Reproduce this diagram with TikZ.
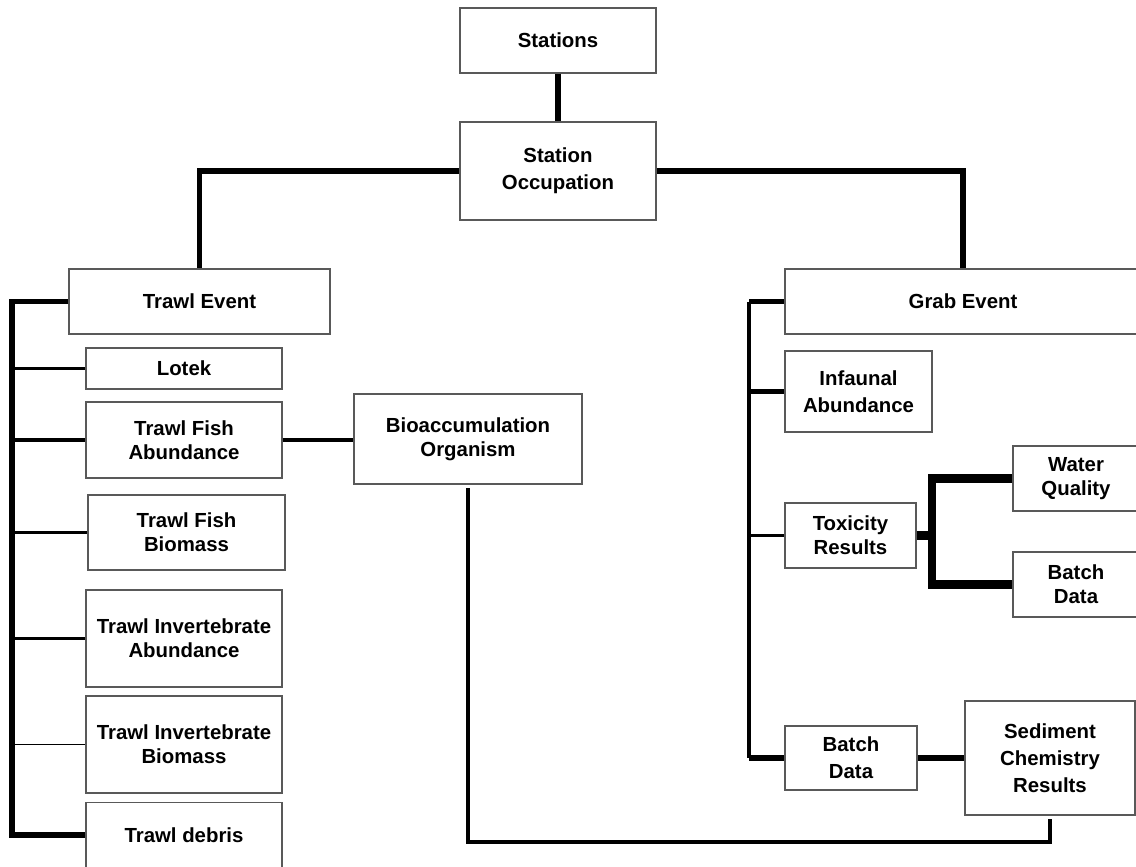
\documentclass[tikz,border=0pt]{standalone}
\usepackage{fontspec}
\setmainfont{Liberation Sans}
\begin{document}
\begin{tikzpicture}[x=0.02cm,y=-0.02cm,
  box/.style={draw=black!65, line width=0.65pt, fill=white, align=center, inner sep=0pt,
    font=\bfseries\fontsize{11.6}{13.8}\selectfont},
  loose/.style={font=\bfseries\fontsize{11.6}{15.2}\selectfont},
  wsix/.style={line width=3.6pt},
  wfive/.style={line width=3.2pt},
  wthree/.style={line width=2pt},
  weight/.style={line width=4.8pt},
  wone/.style={line width=0.7pt}]
\useasboundingbox (0,0) rectangle (1136,866);
\fill[white] (0,0) rectangle (1136,866);
\begin{scope}
\clip (0,0) rectangle (1136,866);
% boxes
\node[box, minimum width=3.92cm, minimum height=1.30cm] (st) at (558,40.5) {Stations};
\node[box, loose, minimum width=3.92cm, minimum height=1.96cm] (so) at (558,171) {Station\\Occupation};
\node[box, minimum width=5.22cm, minimum height=1.30cm] (te) at (199.5,301.5) {Trawl Event};
\node[box, minimum width=7.12cm, minimum height=1.30cm] (ge) at (963,301.5) {Grab Event};
\node[box, minimum width=3.92cm, minimum height=0.82cm] (lo) at (184,368.5) {Lotek};
\node[box, minimum width=3.92cm, minimum height=1.52cm] (tfa) at (184,440) {Trawl Fish\\Abundance};
\node[box, minimum width=4.56cm, minimum height=1.80cm] (bio) at (468,439) {Bioaccumulation\\Organism};
\node[box, minimum width=3.94cm, minimum height=1.50cm] (tfb) at (186.5,532.5) {Trawl Fish\\Biomass};
\node[box, minimum width=3.92cm, minimum height=1.94cm] (tia) at (184,638.5) {Trawl Invertebrate\\Abundance};
\node[box, minimum width=3.92cm, minimum height=1.94cm] (tib) at (184,744.5) {Trawl Invertebrate\\Biomass};
\node[box, minimum width=3.92cm, minimum height=1.30cm] (td) at (184,835) {Trawl debris};
\node[box, loose, minimum width=2.94cm, minimum height=1.62cm] (ia) at (858.5,391.5) {Infaunal\\Abundance};
\node[box, minimum width=2.62cm, minimum height=1.30cm] (tox) at (850.5,535.5) {Toxicity\\Results};
\node[box, minimum width=2.52cm, minimum height=1.30cm] (wq) at (1076,478.5) {Water\\Quality};
\node[box, minimum width=2.52cm, minimum height=1.30cm] (bda) at (1076,584.5) {Batch\\Data};
\node[box, loose, minimum width=2.64cm, minimum height=1.28cm] (bdb) at (851,758) {Batch\\Data};
\node[box, loose, minimum width=3.40cm, minimum height=2.28cm] (sc) at (1050,758) {Sediment\\Chemistry\\Results};
% helper coordinates
\coordinate (lb) at (12,0);
\coordinate (rb) at (749,0);
\coordinate (fk) at (932,0);
\coordinate (lp) at (0,842);
% connectors
\draw[wsix] (st.south) -- (so.north);
\draw[wfive] (so.west) -| (te.north);
\draw[wfive] (so.east) -| (ge.north);
% left bus
\draw[wfive] (te.west) -- (te.west -| lb) -- (td.west -| lb) -- (td.west);
\draw[wthree] (lo.west -| lb) -- (lo.west);
\draw[wthree] (tfa.west -| lb) -- (tfa.west);
\draw[wthree] (tfb.west -| lb) -- (tfb.west);
\draw[wthree] (tia.west -| lb) -- (tia.west);
\draw[wone] (tib.west -| lb) -- (tib.west);
\draw[wthree] (tfa.east) -- (tfa.east -| bio.west);
% right bus
\draw[wthree] (ge.west -| rb) -- (bdb.west -| rb);
\draw[wfive] (ge.west -| rb) -- (ge.west);
\draw[wfive] (ia.west -| rb) -- (ia.west);
\draw[wthree] (tox.west -| rb) -- (tox.west);
\draw[wfive] (bdb.west -| rb) -- (bdb.west);
\draw[wfive] (bdb.east) -- (sc.west |- bdb.east);
% toxicity fork
\draw[weight] (tox.east) -- (tox.east -| fk);
\draw[weight] (wq.west) -- (wq.west -| fk) -- (bda.west -| fk) -- (bda.west);
% bottom loop
\draw[line width=2.3pt, shorten <=2pt, shorten >=2pt] (bio.south) -- (bio.south |- lp) -- (sc.south |- lp) -- (sc.south);
\end{scope}
\end{tikzpicture}
\end{document}
